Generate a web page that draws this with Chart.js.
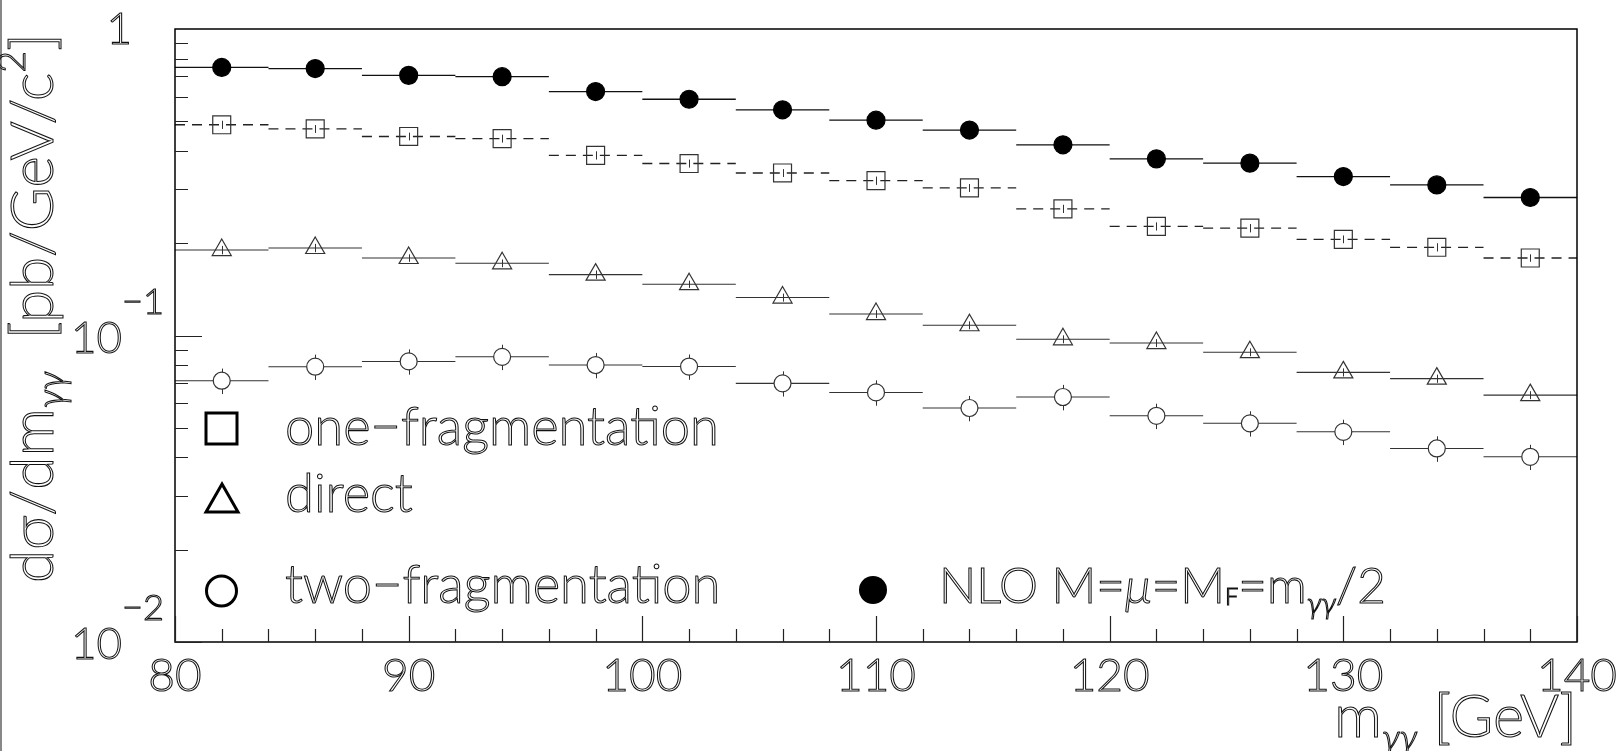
<!DOCTYPE html>
<html lang="en">
<head>
<meta charset="UTF-8">
<title>Diphoton mass spectrum</title>
<script src="https://cdn.jsdelivr.net/npm/chart.js@4"></script>
<style>
  html, body { margin: 0; padding: 0; background: #fff; }
  #wrap { position: relative; width: 1622px; height: 751px; }
</style>
</head>
<body>
<div id="wrap"><canvas id="massChart" width="1622" height="751"></canvas></div>
<script>
// m_gg binning [GeV]
const binEdges   = [80, 84, 88, 92, 96, 100, 104, 108, 112, 116, 120, 124, 128, 132, 136, 140];
const binCenters = [82, 86, 90, 94, 98, 102, 106, 110, 114, 118, 122, 126, 130, 134, 138];

// dsigma/dm_gg [pb/GeV/c^2]
const nloTotal = [0.749, 0.743, 0.706, 0.699, 0.625, 0.590, 0.545, 0.504, 0.468, 0.419, 0.377, 0.365, 0.330, 0.310, 0.282];
const oneFrag  = [0.487, 0.472, 0.446, 0.439, 0.387, 0.364, 0.339, 0.320, 0.303, 0.259, 0.227, 0.224, 0.206, 0.194, 0.179];
const direct   = [0.190, 0.193, 0.179, 0.172, 0.158, 0.147, 0.133, 0.1175, 0.108, 0.0972, 0.0945, 0.0882, 0.0758, 0.0723, 0.0639];
const twoFrag  = [0.0712, 0.0791, 0.0823, 0.0852, 0.0801, 0.0792, 0.0698, 0.0652, 0.0580, 0.0630, 0.0547, 0.0517, 0.0485, 0.0428, 0.0402];

// statistical errors
const oneFragErr = [0.015, 0.014, 0.013, 0.013, 0.012, 0.011, 0.010, 0.010, 0.009, 0.008, 0.007, 0.007, 0.006, 0.006, 0.005];
const directErr  = [0.006, 0.006, 0.005, 0.005, 0.005, 0.004, 0.004, 0.0035, 0.0032, 0.0029, 0.0028, 0.0026, 0.0023, 0.0022, 0.0019];
const twoFragErr = [0.0068, 0.0075, 0.0078, 0.0081, 0.0076, 0.0075, 0.0066, 0.0062, 0.0055, 0.0060, 0.0052, 0.0049, 0.0046, 0.0041, 0.0038];

// axis labels
const xMajorTicks = [80, 90, 100, 110, 120, 130, 140];
const yLabelValues = [1, 0.1, 0.01];
const yLabelBase = ['1', '10', '10'];
const yLabelExp = ['', '\u22121', '\u22122'];

const FONT = 'Lato';

function stepData(vals) {
  const pts = [];
  vals.forEach((v, i) => {
    pts.push({ x: binEdges[i], y: v }, { x: binEdges[i + 1], y: v }, { x: binEdges[i + 1], y: null });
  });
  return pts;
}
function pointData(vals) {
  return binCenters.map((x, i) => ({ x: x, y: vals[i] }));
}

// hollow-looking text runs: [text, size, dy, italic]
function runFont(r, k) {
  return (r[3] ? 'italic ' : '') + '300 ' + (r[1] * k) + 'px ' + FONT;
}
function drawRuns(ctx, runs, x, y, opts) {
  opts = opts || {};
  let k = 1, total = 0;
  runs.forEach(r => { ctx.font = runFont(r, 1); total += ctx.measureText(r[0]).width; });
  if (opts.fit) { k = opts.fit / total; total = opts.fit; }
  let cx = opts.align === 'right' ? x - total : opts.align === 'center' ? x - total / 2 : x;
  runs.forEach(r => {
    ctx.font = runFont(r, k);
    ctx.strokeText(r[0], cx, y + (r[2] || 0) * k);
    cx += ctx.measureText(r[0]).width;
  });
  return k;
}

const decorPlugin = {
  id: 'decor',
  // error bars go under the markers, so filled circles hide their inner part
  beforeDatasetsDraw(chart) {
    const ctx = chart.ctx, xs = chart.scales.x, ys = chart.scales.y;
    ctx.save();
    ctx.strokeStyle = '#333';
    ctx.lineWidth = 1;
    [[oneFrag, oneFragErr], [direct, directErr], [twoFrag, twoFragErr]].forEach(([vals, errs]) => {
      vals.forEach((v, i) => {
        const px = Math.round(xs.getPixelForValue(binCenters[i])) + 0.5;
        ctx.beginPath();
        ctx.moveTo(px, ys.getPixelForValue(v + errs[i]));
        ctx.lineTo(px, ys.getPixelForValue(v - errs[i]));
        ctx.stroke();
      });
    });
    ctx.restore();
  },
  afterDraw(chart) {
    const ctx = chart.ctx, a = chart.chartArea, xs = chart.scales.x, ys = chart.scales.y;
    ctx.save();

    // page edge line
    ctx.fillStyle = '#888';
    ctx.fillRect(0, 0, 2, chart.height);

    // frame
    ctx.strokeStyle = '#000';
    ctx.lineWidth = 1.5;
    ctx.strokeRect(a.left, a.top, a.right - a.left, a.bottom - a.top);

    // x ticks, pointing inward
    ctx.lineWidth = 1.2;
    ctx.strokeStyle = '#222';
    ctx.beginPath();
    for (let v = 80; v <= 140; v += 2) {
      const px = Math.round(xs.getPixelForValue(v)) + 0.5;
      const len = v % 10 === 0 ? 26 : 13;
      ctx.moveTo(px, a.bottom);
      ctx.lineTo(px, a.bottom - len);
    }
    // y ticks (log decades)
    [0.01, 0.1].forEach(dec => {
      for (let m = 1; m <= 9; m++) {
        const py = Math.round(ys.getPixelForValue(m * dec)) + 0.5;
        const len = m === 1 ? 27 : 13;
        ctx.moveTo(a.left, py);
        ctx.lineTo(a.left + len, py);
      }
    });
    ctx.stroke();

    ctx.strokeStyle = '#111';
    ctx.lineWidth = 1.05;
    ctx.textBaseline = 'alphabetic';

    // x tick labels
    xMajorTicks.forEach(v => {
      drawRuns(ctx, [[String(v), 46]], xs.getPixelForValue(v), 691, { align: 'center' });
    });

    // y tick labels
    yLabelValues.forEach((v, i) => {
      const py = ys.getPixelForValue(v);
      if (!yLabelExp[i]) {
        drawRuns(ctx, [[yLabelBase[i], 44]], a.left - 43, py + 15, { align: 'right' });
      } else {
        drawRuns(ctx, [[yLabelBase[i], 44]], a.left - 53, py + 17, { align: 'right' });
        drawRuns(ctx, [[yLabelExp[i], 36]], a.left - 53, py - 22, { fit: 42 });
      }
    });

    // x axis title
    drawRuns(ctx, [['m', 46], ['\u03b3\u03b3', 28, 10, true], [' [GeV]', 46]],
      a.right, 737, { align: 'right', fit: 243 });

    // y axis title
    ctx.save();
    ctx.translate(53, 583);
    ctx.rotate(-Math.PI / 2);
    drawRuns(ctx, [['d\u03c3/dm', 48], ['\u03b3\u03b3', 30, 9, true], ['  [pb/GeV/c', 48], ['2', 30, -22], [']', 48]],
      0, 0, { fit: 550 });
    ctx.restore();

    // legend
    const k = drawRuns(ctx, [['one\u2212fragmentation', 46]], 285, 445, { fit: 434 });
    drawRuns(ctx, [['direct', 46 * k]], 285, 512);
    drawRuns(ctx, [['two\u2212fragmentation', 46 * k]], 285, 603);
    drawRuns(ctx, [['NLO M=', 46], ['\u03bc', 46, 0, true], ['=M', 46], ['F', 22, 2], ['=m', 46],
      ['\u03b3\u03b3', 28, 10, true], ['/2', 46]], 939, 603, { fit: 447 });

    ctx.strokeStyle = '#000';
    ctx.lineWidth = 3;
    ctx.strokeRect(206, 413, 31, 31);
    ctx.beginPath();
    ctx.moveTo(222, 484);
    ctx.lineTo(238, 512);
    ctx.lineTo(206, 512);
    ctx.closePath();
    ctx.stroke();
    ctx.beginPath();
    ctx.arc(221.5, 591, 15, 0, Math.PI * 2);
    ctx.stroke();
    ctx.fillStyle = '#000';
    ctx.beginPath();
    ctx.arc(873, 590, 14, 0, Math.PI * 2);
    ctx.fill();

    ctx.restore();
  }
};

const markerBase = { type: 'scatter', order: 0, showLine: false, pointBorderWidth: 1.2 };
const stepBase = { type: 'line', order: 1, showLine: true, pointRadius: 0, spanGaps: false, fill: false, borderWidth: 1.3 };

new Chart(document.getElementById('massChart'), {
  data: {
    datasets: [
      Object.assign({}, markerBase, { label: 'NLO', data: pointData(nloTotal), pointStyle: 'circle', pointRadius: 9,
        pointBackgroundColor: '#000', pointBorderColor: '#000' }),
      Object.assign({}, markerBase, { label: 'one-fragmentation', data: pointData(oneFrag), pointStyle: 'rect', pointRadius: 12.7,
        pointBackgroundColor: 'rgba(0,0,0,0)', pointBorderColor: '#333' }),
      Object.assign({}, markerBase, { label: 'direct', data: pointData(direct), pointStyle: 'triangle', pointRadius: 11,
        pointBackgroundColor: 'rgba(0,0,0,0)', pointBorderColor: '#333' }),
      Object.assign({}, markerBase, { label: 'two-fragmentation', data: pointData(twoFrag), pointStyle: 'circle', pointRadius: 8.5,
        pointBackgroundColor: '#fff', pointBorderColor: '#333' }),
      Object.assign({}, stepBase, { data: stepData(nloTotal), borderColor: '#111' }),
      Object.assign({}, stepBase, { data: stepData(oneFrag), borderColor: '#222', borderDash: [10, 7] }),
      Object.assign({}, stepBase, { data: stepData(direct), borderColor: '#333', borderWidth: 1.1 }),
      Object.assign({}, stepBase, { data: stepData(twoFrag), borderColor: '#333', borderWidth: 1.1 })
    ]
  },
  options: {
    responsive: false,
    animation: false,
    layout: { padding: { left: 175, top: 29, right: 45, bottom: 109 } },
    scales: {
      x: { type: 'linear', min: 80, max: 140, display: false },
      y: { type: 'logarithmic', min: 0.01, max: 1, display: false }
    },
    plugins: { legend: { display: false }, tooltip: { enabled: false } }
  },
  plugins: [decorPlugin]
});
</script>
</body>
</html>
